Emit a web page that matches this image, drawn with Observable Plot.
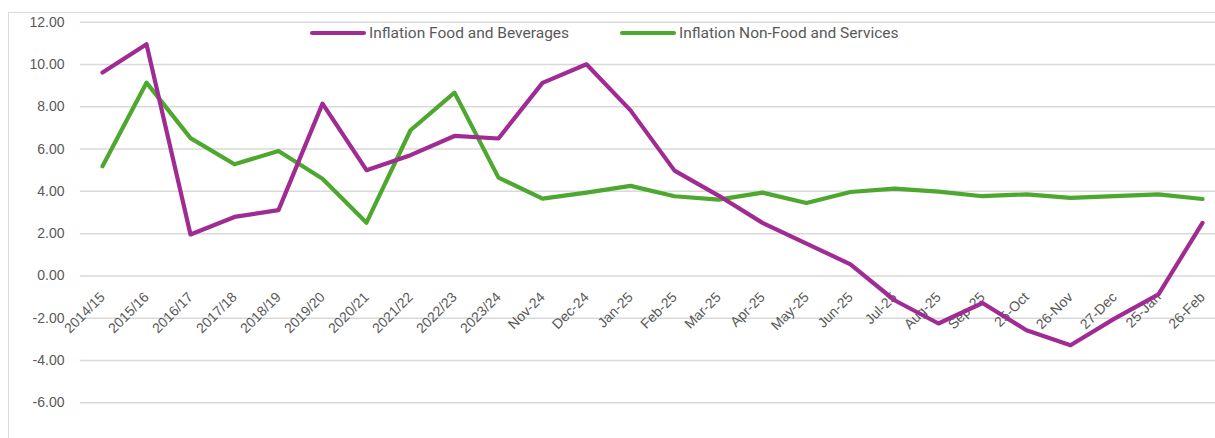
<!DOCTYPE html>
<html>
<head>
<meta charset="utf-8">
<script src="https://cdn.jsdelivr.net/npm/d3@7"></script>
<script src="https://cdn.jsdelivr.net/npm/@observablehq/plot@0.6"></script>
<style>
  html, body { margin: 0; padding: 0; background: #fff; }
  #wrap { position: relative; width: 1215px; height: 438px; overflow: hidden; font-family: "Liberation Sans", Arial, sans-serif; }
  #frame { position: absolute; left: 8px; top: 12px; width: 1300px; height: 500px; border: 1px solid #d9d9d9; box-sizing: border-box; }
  #chart { position: absolute; left: 0; top: 0; }
  .leg { position: absolute; top: 24px; display: flex; align-items: center; font-family: Roboto, "Liberation Sans", sans-serif; font-size: 15.5px; color: #595959; white-space: nowrap; }
  .leg .sw { display: inline-block; width: 56px; height: 4px; border-radius: 2px; margin-right: 3px; }
</style>
</head>
<body>
<div id="wrap">
  <div id="frame"></div>
  <div id="chart"></div>
  <div class="leg" style="left:310px"><span class="sw" style="background:#A02B93"></span>Inflation Food and Beverages</div>
  <div class="leg" style="left:620px"><span class="sw" style="background:#4EA72E"></span>Inflation Non-Food and Services</div>
</div>
<script>
const categories = ["2014/15","2015/16","2016/17","2017/18","2018/19","2019/20","2020/21","2021/22","2022/23","2023/24",
  "Nov-24","Dec-24","Jan-25","Feb-25","Mar-25","Apr-25","May-25","Jun-25","Jul-25","Aug-25","Sep-25",
  "25-Oct","26-Nov","27-Dec","25-Jan","26-Feb"];
const foodBeverages = [9.62,10.96,1.96,2.79,3.11,8.15,5.00,5.71,6.62,6.50,
  9.13,10.01,7.83,4.98,3.80,2.51,1.53,0.55,-1.15,-2.25,-1.28,
  -2.57,-3.28,-2.02,-0.87,2.51];
const nonFoodServices = [5.19,9.14,6.52,5.28,5.91,4.60,2.52,6.89,8.67,4.65,
  3.66,3.94,4.26,3.77,3.61,3.94,3.45,3.97,4.13,3.99,3.77,
  3.86,3.69,3.77,3.86,3.64];
const yTicks = [-6,-4,-2,0,2,4,6,8,10,12];

const rows = categories.map((c, i) => ({cat: c, food: foodBeverages[i], nonfood: nonFoodServices[i]}));

const chart = Plot.plot({
  width: 1215,
  height: 438,
  marginLeft: 80,
  marginRight: 0,
  marginTop: 20,
  marginBottom: 30,
  style: {background: "transparent", fontFamily: "'Liberation Sans', Arial, sans-serif"},
  x: {type: "point", domain: categories, range: [101.7, 1201.7], padding: 0, axis: null},
  y: {domain: [-6, 12], range: [402.3, 21.7], axis: null},
  marks: [
    Plot.ruleY(yTicks, {stroke: "#d9d9d9", strokeWidth: 1.5}),
    Plot.text(yTicks, {y: d => d, frameAnchor: "left", text: d => d.toFixed(2), textAnchor: "end", dx: -16, fontSize: 14, fill: "#595959"}),
    Plot.text(categories, {x: d => d, y: d => 0, text: d => d, rotate: -45, textAnchor: "end", dx: 0, dy: 19, fontSize: 14, fill: "#595959"}),
    Plot.line(rows, {x: "cat", y: "nonfood", stroke: "#4EA72E", strokeWidth: 4.2, strokeLinecap: "round", strokeLinejoin: "round"}),
    Plot.line(rows, {x: "cat", y: "food", stroke: "#A02B93", strokeWidth: 4.2, strokeLinecap: "round", strokeLinejoin: "round"})
  ]
});
document.getElementById("chart").appendChild(chart);
</script>
</body>
</html>
